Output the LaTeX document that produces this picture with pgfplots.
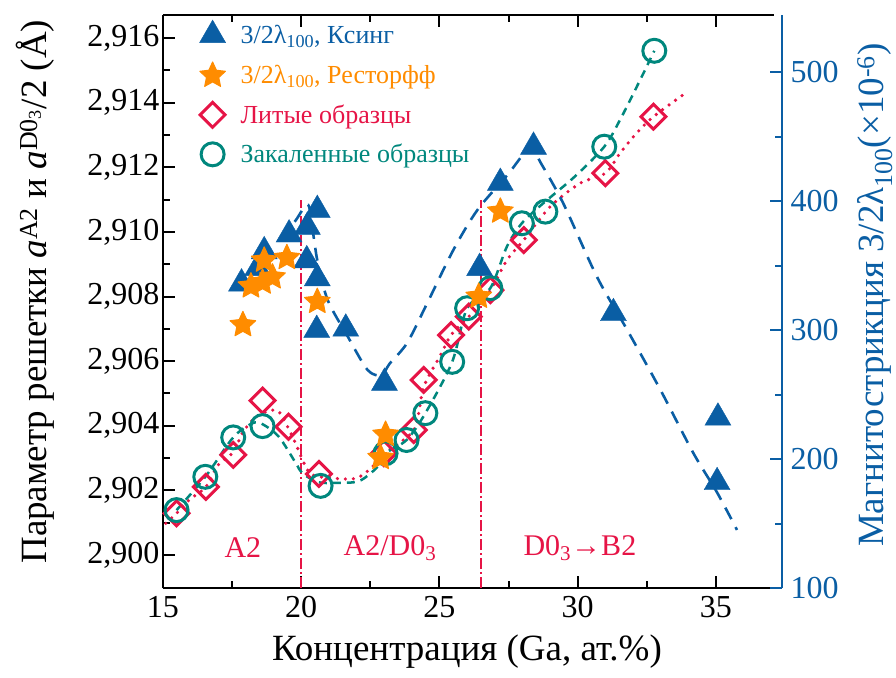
\documentclass[border=0pt]{standalone}
\usepackage{pgfplots}
\pgfplotsset{compat=1.18}
\usepackage{fontspec}
\setmainfont{Liberation Serif}
\definecolor{cblue}{RGB}{10,94,164}
\definecolor{corange}{RGB}{255,140,0}
\definecolor{cred}{RGB}{230,20,70}
\definecolor{cteal}{RGB}{0,135,125}
\pgfdeclareplotmark{fstar}{%
  \pgfpathmoveto{\pgfqpointpolar{90}{\pgfplotmarksize}}%
  \pgfpathlineto{\pgfqpointpolar{126}{0.48\pgfplotmarksize}}%
  \pgfpathlineto{\pgfqpointpolar{162}{\pgfplotmarksize}}%
  \pgfpathlineto{\pgfqpointpolar{198}{0.48\pgfplotmarksize}}%
  \pgfpathlineto{\pgfqpointpolar{234}{\pgfplotmarksize}}%
  \pgfpathlineto{\pgfqpointpolar{270}{0.48\pgfplotmarksize}}%
  \pgfpathlineto{\pgfqpointpolar{306}{\pgfplotmarksize}}%
  \pgfpathlineto{\pgfqpointpolar{342}{0.48\pgfplotmarksize}}%
  \pgfpathlineto{\pgfqpointpolar{18}{\pgfplotmarksize}}%
  \pgfpathlineto{\pgfqpointpolar{54}{0.48\pgfplotmarksize}}%
  \pgfpathclose
  \pgfusepathqfillstroke}
\begin{document}
\begin{tikzpicture}
\useasboundingbox (-163pt,-89pt) rectangle (733pt,588pt);
\begin{axis}[
  scale only axis, width=611pt, height=573pt,
  xmin=15, xmax=37.1, ymin=2.898978, ymax=2.916718,
  axis x line*=box, axis y line*=left,
  axis line style={line width=2pt, black},
  xtick={15,20,25,30,35}, minor x tick num=1,
  ytick={2.900,2.902,2.904,2.906,2.908,2.910,2.912,2.914,2.916}, minor y tick num=1,
  tick style={line width=2pt, black},
  major tick length=12pt, minor tick length=7pt,
  tick label style={font=\fontsize{32}{38}\selectfont},
  /pgf/number format/assume math mode=true,
  yticklabel style={/pgf/number format/fixed, /pgf/number format/fixed zerofill, /pgf/number format/precision=3, /pgf/number format/use comma},
  xticklabel style={yshift=-5pt, /pgf/number format/fixed},
  xlabel={Концентрация (Ga, ат.\%)},
  xlabel style={font=\fontsize{37}{44}\selectfont, at={(axis description cs:0.4975,-0.1117)}, anchor=center},
  ylabel={Параметр решетки \textit{a}\textsuperscript{A2} и \textit{a}\textsuperscript{D0\textsubscript{3}}/2 (Å)},
  ylabel style={font=\fontsize{37}{44}\selectfont, at={(axis description cs:-0.2095,0.517)}, anchor=center},
]
% vertical phase boundaries
\addplot[cred, line width=2pt, dash pattern=on 11pt off 3pt on 2pt off 3pt, forget plot] coordinates {(20,2.898978) (20,2.911)};
\addplot[cred, line width=2pt, dash pattern=on 11pt off 3pt on 2pt off 3pt, forget plot] coordinates {(26.5,2.898978) (26.5,2.911)};
% cast samples trend (dotted)
\addplot[cred, line width=3.6pt, line cap=round, dash pattern=on 0pt off 8pt, smooth, forget plot] coordinates {
(15.10,2.90098) (15.49,2.90129) (15.94,2.90170) (16.55,2.90211) (17.00,2.90279) (17.54,2.90318)
(17.87,2.90377) (18.24,2.90418) (18.60,2.90439) (19.08,2.90449) (19.32,2.90428) (19.74,2.90356)
(19.92,2.90320) (20.10,2.90284) (20.40,2.90248) (21.25,2.90237) (21.97,2.90237) (22.45,2.90263)
(22.75,2.90289) (23.00,2.90315) (24.07,2.90387) (24.43,2.90520) (25.04,2.90619) (25.42,2.90681)
(26.06,2.90738) (26.84,2.90820) (27.44,2.90913) (28.05,2.90975) (29.00,2.91078) (30.09,2.91151)
(31.00,2.91182) (31.53,2.91244) (32.13,2.91306) (32.74,2.91357) (33.80,2.91424)};
% quenched samples trend (dashed)
\addplot[cteal, line width=2.5pt, dash pattern=on 8pt off 6pt, smooth, forget plot] coordinates {
(15.49,2.90139) (16.53,2.90242) (17.54,2.90364) (18.24,2.90408) (18.60,2.90405) (19.19,2.90366)
(19.80,2.90285) (20.04,2.90253) (20.60,2.90226) (21.17,2.90223) (22.03,2.90227) (22.51,2.90253)
(22.87,2.90284) (23.05,2.90315) (23.81,2.90356) (24.49,2.90439) (25.46,2.90598) (26.00,2.90764)
(26.84,2.90826) (27.44,2.90955) (27.98,2.91027) (28.70,2.91085) (29.90,2.91172) (30.96,2.91264)
(31.53,2.91347) (32.26,2.91471) (32.77,2.91561)};
% cast samples
\addplot[only marks, mark=square, mark size=8.8pt, mark options={rotate=45, cred, line width=3pt, fill=none}, forget plot] coordinates {
(15.49,2.90129) (16.55,2.90211) (17.54,2.90310) (18.60,2.90478) (19.54,2.90397) (20.64,2.90251)
(22.99,2.90315) (24.07,2.90387) (24.43,2.90542) (25.42,2.90681) (26.06,2.90738) (26.84,2.90820)
(28.05,2.90975) (31.00,2.91182) (32.74,2.91357)};
% quenched samples
\addplot[only marks, mark=o, mark size=11.5pt, mark options={cteal, line width=3pt, fill=none}, forget plot] coordinates {
(15.49,2.90139) (16.53,2.90242) (17.54,2.90364) (18.60,2.90399) (20.70,2.90214) (23.05,2.90315)
(23.81,2.90356) (24.49,2.90439) (25.46,2.90598) (26.00,2.90764) (26.84,2.90826) (27.98,2.91027)
(28.83,2.91063) (30.96,2.91264) (32.77,2.91561)};
\node[text=cred, font=\fontsize{30}{36}\selectfont] at (axis cs:17.89,2.90022) {A2};
\node[text=cred, font=\fontsize{30}{36}\selectfont] at (axis cs:23.21,2.90022) {A2/D0\textsubscript{3}};
\node[text=cred, font=\fontsize{30}{36}\selectfont] at (axis cs:30.08,2.90022) {D0\textsubscript{3}→B2};
\end{axis}
\begin{axis}[
  scale only axis, width=619pt, height=573pt,
  xmin=15, xmax=37.387, ymin=100, ymax=544.2,
  axis x line=none, axis y line*=right,
  y axis line style={line width=2pt, cblue},
  ytick={100,200,300,400,500}, minor y tick num=1,
  ytick style={line width=2pt, cblue},
  major tick length=12pt, minor tick length=7pt,
  /pgf/number format/assume math mode=true,
  yticklabel style={font=\fontsize{32}{38}\selectfont, text=cblue, xshift=5pt},
  ylabel={Магнитострикция 3/2λ\textsubscript{100}(×10\textsuperscript{-6})},
  ylabel style={font=\fontsize{37}{44}\selectfont, text=cblue, at={(axis description cs:1.150,0.511)}, anchor=center},
  legend style={at={(axis description cs:0.054,0.995)}, anchor=north west, draw=none, fill=none,
    font=\fontsize{26}{30}\selectfont, row sep=15pt},
  legend cell align=left,
]
\addlegendimage{only marks, mark=triangle*, mark size=15pt, cblue, mark options={fill=cblue}}
\addlegendentry{\hspace*{13pt}\textcolor{cblue}{3/2λ\textsubscript{100}, Ксинг}}
\addlegendimage{only marks, mark=fstar, mark size=13.5pt, corange, mark options={fill=corange, line join=round, line width=1pt}}
\addlegendentry{\hspace*{13pt}\textcolor{corange}{3/2λ\textsubscript{100}, Ресторфф}}
\addlegendimage{only marks, mark=square, mark size=8.8pt, mark options={rotate=45, cred, line width=3pt}}
\addlegendentry{\hspace*{13pt}\textcolor{cred}{ Литые образцы}}
\addlegendimage{only marks, mark=o, mark size=11.5pt, mark options={cteal, line width=3pt}}
\addlegendentry{\hspace*{13pt}\textcolor{cteal}{Закаленные образцы}}
% Ksing trend
\addplot[cblue, line width=2.6pt, dash pattern=on 13pt off 9pt, smooth, forget plot] coordinates {
(19.30,370) (19.80,385) (20.25,397) (20.45,372) (20.60,352) (20.96,323) (21.68,295) (22.40,269)
(22.90,265) (23.20,274) (23.83,290) (24.56,321) (25.50,362) (26.37,393) (27.45,420) (28.30,442)
(28.65,430) (29.48,398) (30.70,341) (31.79,300) (32.98,254) (34.17,205) (35.04,174) (35.76,145)};
\addplot[only marks, mark=triangle*, mark size=15pt, cblue, mark options={fill=cblue}, forget plot] coordinates {
(17.84,336) (18.42,348) (18.66,361) (19.56,374) (20.22,380) (20.58,393) (20.20,354) (20.58,340)
(20.56,300) (21.61,301) (23.01,259) (26.45,348) (27.20,414) (28.40,442) (31.29,313) (35.07,232) (35.04,182)};
\addplot[only marks, mark=fstar, mark size=13.5pt, corange, mark options={fill=corange, line join=round, line width=1pt}, forget plot] coordinates {
(17.89,304) (18.18,334) (18.60,337) (18.66,354) (18.96,341) (19.48,356) (20.58,322)
(22.87,201) (23.05,219) (26.42,326) (27.20,392)};
\end{axis}
\end{tikzpicture}
\end{document}
